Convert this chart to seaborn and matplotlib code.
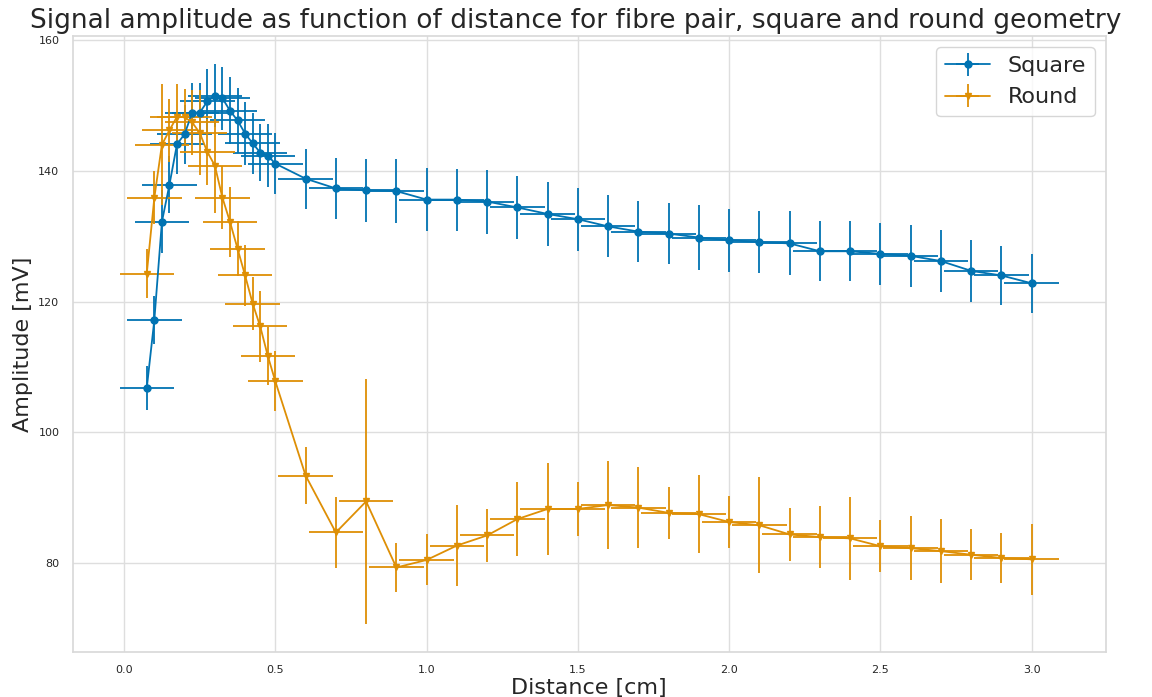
import numpy as np
import pandas as pd
import matplotlib
matplotlib.use("Agg")
import matplotlib.pyplot as plt
import seaborn as sns

# Distance steps [cm]
distance = [0.075, 0.1, 0.125, 0.15, 0.175, 0.2, 0.225, 0.25, 0.275, 0.3,
            0.325, 0.35, 0.375, 0.4, 0.425, 0.45, 0.475, 0.5, 0.6, 0.7,
            0.8, 0.9, 1.0, 1.1, 1.2, 1.3, 1.4, 1.5, 1.6, 1.7,
            1.8, 1.9, 2.0, 2.1, 2.2, 2.3, 2.4, 2.5, 2.6, 2.7,
            2.8, 2.9, 3.0]
distance_err = 0.09

# Square geometry amplitude [mV] and its uncertainty
square_amp = [106.8, 117.2, 132.2, 137.9, 144.1, 145.6, 148.9, 148.9, 150.6, 151.5,
              151.1, 149.2, 147.7, 145.7, 144.2, 142.8, 142.3, 141.1, 138.8, 137.3,
              137.0, 136.9, 135.6, 135.6, 135.3, 134.4, 133.4, 132.6, 131.5, 130.7,
              130.4, 129.8, 129.4, 129.1, 128.9, 127.7, 127.7, 127.3, 127.0, 126.2,
              124.7, 124.0, 122.8]
square_err = [3.3, 3.7, 4.8, 4.4, 4.6, 4.5, 4.6, 4.5, 5.0, 4.8,
              4.8, 5.1, 5.0, 4.8, 4.7, 4.3, 4.8, 4.7, 4.6, 4.7,
              4.8, 4.9, 4.8, 4.75, 4.9, 4.8, 4.9, 4.8, 4.75, 4.7,
              4.7, 4.9, 4.8, 4.7, 4.9, 4.6, 4.6, 4.75, 4.7, 4.7,
              4.7, 4.5, 4.5]

# Round geometry amplitude [mV] and its uncertainty
round_amp = [124.3, 135.9, 144.0, 146.2, 148.3, 148.2, 147.4, 145.8, 142.9, 140.8,
             135.9, 132.2, 128.1, 124.0, 119.7, 116.2, 111.7, 107.8, 93.4, 84.7,
             89.45, 79.35, 80.5, 82.7, 84.25, 86.75, 88.3, 88.3, 88.9, 88.5,
             87.7, 87.5, 86.3, 85.8, 84.4, 84.0, 83.8, 82.6, 82.3, 81.85,
             81.3, 80.8, 80.6]
round_err = [3.7, 4.0, 9.3, 4.8, 5.0, 4.3, 5.0, 6.5, 5.0, 7.2,
             4.8, 5.4, 4.2, 4.7, 4.1, 5.5, 4.4, 4.6, 4.4, 5.5,
             18.7, 3.75, 3.9, 6.2, 4.1, 5.6, 7.0, 4.1, 6.7, 6.2,
             4.0, 6.0, 4.0, 7.35, 4.0, 4.75, 6.3, 4.0, 4.9, 4.9,
             3.9, 3.8, 5.4]

sns.set_theme(style="whitegrid", palette="colorblind",
              rc={"grid.color": "0.87", "axes.edgecolor": "0.85"})
colors = sns.color_palette("colorblind")

fig = plt.figure(figsize=(11.52, 6.97), dpi=100)
ax = fig.add_axes([0.063, 0.065, 0.897, 0.883])

series = [
    ("Square", square_amp, square_err, "o", colors[0]),
    ("Round", round_amp, round_err, "v", colors[1]),
]
for name, amp, err, marker, color in series:
    ax.errorbar(distance, amp, xerr=distance_err, yerr=err,
                fmt=marker + "-", color=color, markersize=5,
                linewidth=1.3, elinewidth=1.3, label=name)

ax.set_title("Signal amplitude as function of distance for fibre pair, square and round geometry",
             fontsize=19, x=0.487)
ax.set_xlabel("Distance [cm]", fontsize=16, labelpad=2)
ax.set_ylabel("Amplitude [mV]", fontsize=16)
ax.tick_params(axis="both", labelsize=8)
ax.legend(loc="upper right", fontsize=16)

fig.savefig("out.png", dpi=100)
